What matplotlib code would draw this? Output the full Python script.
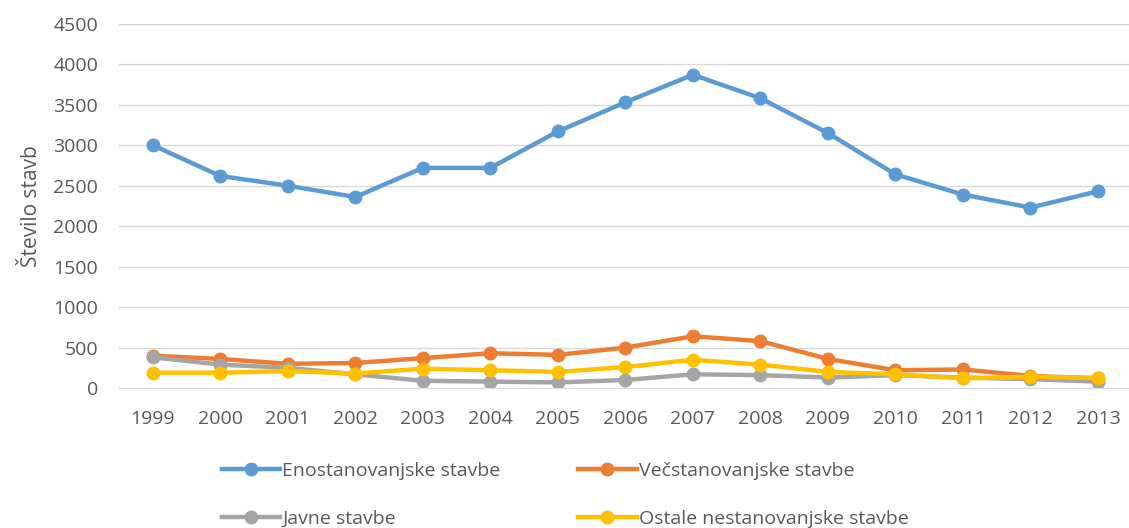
import matplotlib.pyplot as plt

plt.rcParams['font.family'] = ['Open Sans', 'DejaVu Sans']

# Data
years = ['1999', '2000', '2001', '2002', '2003', '2004', '2005', '2006',
         '2007', '2008', '2009', '2010', '2011', '2012', '2013']
enostanovanjske = [3000, 2620, 2500, 2360, 2720, 2720, 3170, 3530,
                   3870, 3580, 3150, 2640, 2390, 2230, 2430]
vecstanovanjske = [400, 360, 300, 310, 370, 430, 410, 500,
                   640, 580, 360, 220, 230, 150, 120]
javne = [380, 290, 250, 170, 90, 80, 70, 100,
         170, 160, 130, 160, 130, 110, 80]
ostale = [190, 190, 210, 180, 240, 220, 200, 260,
          350, 290, 200, 170, 120, 140, 125]

series = [
    ('Enostanovanjske stavbe', enostanovanjske, '#5B9BD5'),
    ('Večstanovanjske stavbe', vecstanovanjske, '#ED7D31'),
    ('Javne stavbe', javne, '#A5A5A5'),
    ('Ostale nestanovanjske stavbe', ostale, '#FFC000'),
]

fig = plt.figure(figsize=(11.29, 5.28), dpi=100)
ax = fig.add_axes([0.1054, 0.265, 0.897, 0.69])

x = list(range(len(years)))
lines = []
for label, vals, color in series:
    ln, = ax.plot(x, vals, '-o', color=color, lw=3.2, markersize=9, label=label)
    lines.append(ln)

ax.set_xlim(-0.5, len(years) - 0.5)
ax.set_ylim(0, 4500)
ax.set_yticks(range(0, 4501, 500))
ax.set_xticks(x)
ax.set_xticklabels(years)
ax.grid(axis='y', color='#d9d9d9', lw=1)
ax.set_axisbelow(True)
for s in ['top', 'right', 'left']:
    ax.spines[s].set_visible(False)
ax.spines['bottom'].set_color('#d9d9d9')
ax.tick_params(length=0, labelsize=14, labelcolor='#595959')
ax.tick_params(axis='y', pad=15)
ax.tick_params(axis='x', pad=16)
ax.set_ylabel('Število stavb', fontsize=15, color='#595959')
ax.yaxis.set_label_coords(-0.076, 0.5)

# legend is filled column by column, so reorder to get rows like the reference
order = [0, 2, 1, 3]
fig.legend([lines[i] for i in order], [series[i][0] for i in order],
           loc='upper left', bbox_to_anchor=(222 / 1129, 1 - 462 / 528), ncol=2,
           frameon=False, fontsize=14, handlelength=3.0, handletextpad=0.1,
           columnspacing=4.0, labelspacing=1.55, labelcolor='#595959',
           borderpad=0, borderaxespad=0)

fig.savefig('out.png', dpi=100)
